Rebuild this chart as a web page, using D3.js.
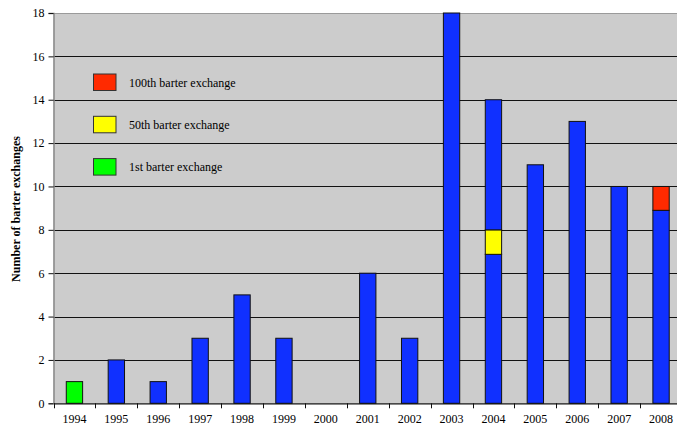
<!DOCTYPE html>
<html><head><meta charset="utf-8">
<script src="https://cdn.jsdelivr.net/npm/d3@7/dist/d3.min.js"></script>
<style>body{margin:0;background:#fff}svg{display:block}</style>
</head><body>
<script>
const years = ["1994","1995","1996","1997","1998","1999","2000","2001","2002","2003","2004","2005","2006","2007","2008"];
// stacked segments per year: [year, start, end, type]
const segments = [
  ["1994",0,1,"first"],
  ["1995",0,2,"regular"],
  ["1996",0,1,"regular"],
  ["1997",0,3,"regular"],
  ["1998",0,5,"regular"],
  ["1999",0,3,"regular"],
  ["2001",0,6,"regular"],
  ["2002",0,3,"regular"],
  ["2003",0,18,"regular"],
  ["2004",0,6.87,"regular"],
  ["2004",6.87,8,"fiftieth"],
  ["2004",8,14,"regular"],
  ["2005",0,11,"regular"],
  ["2006",0,13,"regular"],
  ["2007",0,10,"regular"],
  ["2008",0,8.9,"regular"],
  ["2008",8.9,10,"hundredth"]
];
const yTicks = [0,2,4,6,8,10,12,14,16,18];
const legendItems = [["hundredth","100th barter exchange"],["fiftieth","50th barter exchange"],["first","1st barter exchange"]];
const colors = {regular:"#1030ff", first:"#00ff00", fiftieth:"#ffff00", hundredth:"#ff2a00"};

const W=677,H=430;
const m={left:53.5,top:13,right:682,bottom:403.3};
const svg=d3.select("body").append("svg").attr("width",W).attr("height",H);
const x=d3.scaleBand().domain(years).range([m.left,m.right]).paddingInner(0).paddingOuter(0);
const y=d3.scaleLinear().domain([0,18]).range([m.bottom,m.top]);
const font="'Liberation Serif','Times New Roman',serif";

svg.append("rect").attr("x",m.left).attr("y",m.top).attr("width",m.right-m.left).attr("height",m.bottom-m.top).attr("fill","#cccccc");
svg.append("line").attr("x1",m.left).attr("x2",m.right).attr("y1",m.top+0.5).attr("y2",m.top+0.5).attr("stroke","#9a9a9a");
// gridlines
svg.append("g").selectAll("line").data(yTicks.filter(d=>d>0&&d<18)).join("line")
  .attr("x1",m.left).attr("x2",m.right).attr("y1",d=>Math.round(y(d))+0.5).attr("y2",d=>Math.round(y(d))+0.5)
  .attr("stroke","#111").attr("stroke-width",1);

const bw=x.bandwidth()*0.39;
svg.append("g").selectAll("rect").data(segments).join("rect")
  .attr("x",d=>x(d[0])+x.bandwidth()/2-bw/2).attr("width",bw)
  .attr("y",d=>y(d[2])).attr("height",d=>y(d[1])-y(d[2]))
  .attr("fill",d=>colors[d[3]]).attr("stroke","#111").attr("stroke-width",1);

// y axis
const ya=svg.append("g").attr("transform",`translate(${m.left},0)`)
  .call(d3.axisLeft(y).tickValues(yTicks).tickSize(5).tickPadding(4).tickFormat(d3.format("d")));
ya.select(".domain").attr("stroke","#888").attr("stroke-width",1.5);
ya.selectAll(".tick line").attr("stroke","#111");
ya.selectAll("text").attr("font-family",font).attr("font-size",12).attr("fill","#000");

// x axis
const xa=svg.append("g").attr("transform",`translate(0,${m.bottom})`)
  .call(d3.axisBottom(x).tickSize(0).tickPadding(11));
xa.select(".domain").attr("stroke","#111").attr("stroke-width",1.2);
xa.selectAll("text").attr("font-family",font).attr("font-size",12).attr("fill","#000");
// boundary ticks
svg.append("g").selectAll("line").data(years).join("line")
  .attr("x1",d=>Math.round(x(d))+0.5).attr("x2",d=>Math.round(x(d))+0.5)
  .attr("y1",m.bottom).attr("y2",m.bottom+5).attr("stroke","#111");

// y label
svg.append("text").attr("transform",`translate(19.5,209) rotate(-90)`)
  .attr("text-anchor","middle").attr("font-family",font).attr("font-weight","bold").attr("font-size",12)
  .text("Number of barter exchanges");

// legend
const lg=svg.append("g").selectAll("g").data(legendItems).join("g")
  .attr("transform",(d,i)=>`translate(93.5,${74+i*42.3})`);
lg.append("rect").attr("width",22.5).attr("height",16.5).attr("fill",d=>colors[d[0]]).attr("stroke","#333");
lg.append("text").attr("x",35.5).attr("y",12.5).attr("font-family",font).attr("font-size",12).text(d=>d[1]);
</script>
</body></html>
